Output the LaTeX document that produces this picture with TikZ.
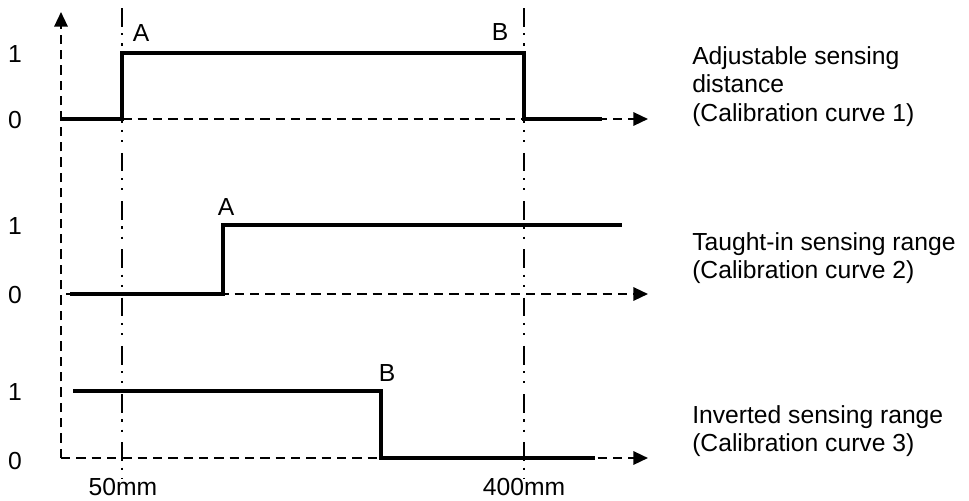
\documentclass[tikz,border=0pt]{standalone}
\usepackage{fontspec}
\setmainfont{Liberation Sans}
\usetikzlibrary{arrows.meta}
\tikzset{
  sig/.style   = {line width=2.6pt},
  axis/.style  = {line width=1.7pt, dash pattern=on 7pt off 4.5pt, -{Triangle[length=11pt,width=10pt]}},
  guide/.style = {line width=1.6pt, dash pattern=on 14pt off 5pt on 1.6pt off 6pt on 1.6pt off 8pt},
  lbl/.style   = {font=\fontsize{18.5}{21.5}\selectfont, inner sep=0},
  desc/.style  = {lbl, align=left, anchor=north west}
}

\begin{document}
\begin{tikzpicture}[x=0.75pt,y=-0.75pt]
  \useasboundingbox (0,0) rectangle (969,500);
  % guides at 50mm and 400mm
  \coordinate (g1t) at (122,8); \coordinate (g1b) at (122,478);
  \coordinate (g2t) at (524,8); \coordinate (g2b) at (524,478);
  \draw[guide] (g1t)--(g1b); \draw[guide] (g2t)--(g2b);
  \node[lbl] (t50)  at (123,487) {50mm};
  \node[lbl] (t400) at (524,487) {400mm};
  % axes
  \coordinate (o) at (61,458); \coordinate (top) at (61,12);
  \draw[axis] (o)--(top); \draw[axis] (o)--(648,458);
  \coordinate (r1) at (61,119);  \draw[axis] (r1)--(648,119);
  \coordinate (r2) at (66,294);  \draw[axis] (r2)--(648,294);
  % curve 1
  \draw[sig] (62,119)--(122,119)--(122,53)--(524,53)--(524,119)--(602,119);
  \node[lbl] (one1) at (15,54) {1}; \node[lbl] (zero1) at (15,120) {0};
  \node[lbl] (A1) at (141,33) {A};  \node[lbl] (B1) at (500,32) {B};
  \node[desc] (d1) at (692,46) {Adjustable sensing\\distance\\(Calibration curve 1)};
  % curve 2
  \draw[sig] (70,294)--(223,294)--(223,225)--(622,225);
  \node[lbl] (one2) at (15,226) {1}; \node[lbl] (zero2) at (15,295) {0};
  \node[lbl] (A2) at (226,207) {A};
  \node[desc] (d2) at (692,232) {Taught-in sensing range\\(Calibration curve 2)};
  % curve 3
  \draw[sig] (73,391)--(381,391)--(381,458)--(595,458);
  \node[lbl] (one3) at (15,392) {1}; \node[lbl] (zero3) at (15,461) {0};
  \node[lbl] (B3) at (387,373) {B};
  \node[desc] (d3) at (692,405) {Inverted sensing range\\(Calibration curve 3)};
\end{tikzpicture}
\end{document}
